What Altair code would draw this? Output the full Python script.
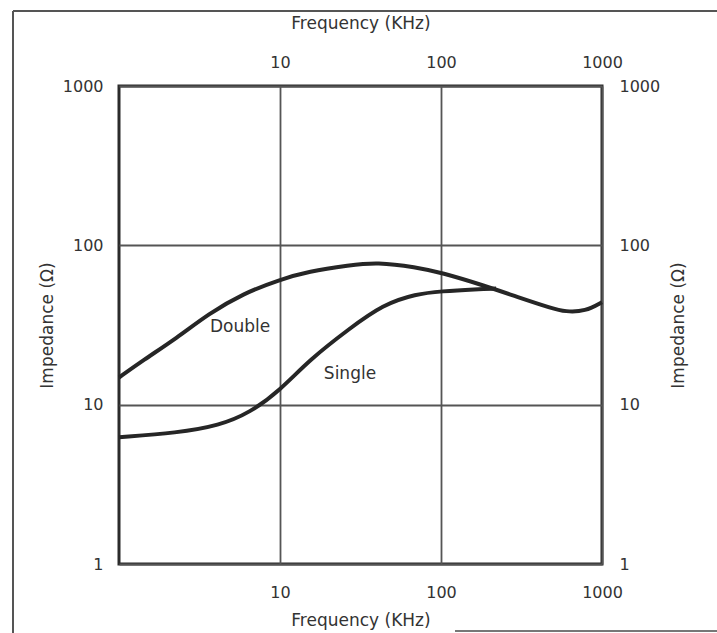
import altair as alt
import pandas as pd

# ---- data ----
double_freq = [1, 1.4, 2.3, 3.6, 5.9, 10, 15, 27, 40, 70, 100, 185, 300, 490, 590, 790, 1000]
double_imp = [14.8, 18.9, 26.3, 37.2, 49.8, 61, 68.5, 75, 78.5, 73, 67.5, 56, 47.3, 40.2, 38.3, 38.5, 44]

single_freq = [1, 2.3, 4.2, 6.5, 10, 15.3, 27, 43.6, 70, 100, 167, 220]
single_imp = [6.25, 6.65, 7.4, 8.9, 12.3, 19.2, 30, 42.5, 49.5, 51.5, 53, 53.5]

label_text = ["Double", "Single"]
label_freq = [5.65, 27.2]
label_imp = [30.7, 15.6]

x_ticks = [10, 100, 1000]
y_ticks = [1, 10, 100, 1000]

lines = pd.DataFrame(
    {
        "f": double_freq + single_freq,
        "z": double_imp + single_imp,
        "series": ["Double"] * len(double_freq) + ["Single"] * len(single_freq),
    }
)
labels = pd.DataFrame({"f": label_freq, "z": label_imp, "t": label_text})

FONT = "DejaVu Sans"
INK = "#333333"

xscale = alt.Scale(type="log", domain=[1, 1000], nice=False)
yscale = alt.Scale(type="log", domain=[1, 1000], nice=False)

curves = (
    alt.Chart(lines)
    .mark_line(color="#262626", strokeWidth=4, interpolate="basis")
    .encode(
        x=alt.X(
            "f:Q",
            scale=xscale,
            axis=alt.Axis(
                orient="bottom",
                values=x_ticks,
                format="d",
                labelFlush=False,
                labelPadding=20,
                title="Frequency  (KHz)",
                titlePadding=12,
                grid=True,
            ),
        ),
        y=alt.Y(
            "z:Q",
            scale=yscale,
            axis=alt.Axis(
                orient="left",
                values=y_ticks,
                format="d",
                labelPadding=16,
                title="Impedance (Ω)",
                titlePadding=6,
                grid=True,
            ),
        ),
        detail="series:N",
        order=alt.Order("f:Q"),
    )
)

texts = (
    alt.Chart(labels)
    .mark_text(font=FONT, fontSize=17, color=INK)
    .encode(
        x=alt.X(
            "f:Q",
            scale=xscale,
            axis=alt.Axis(
                orient="top",
                values=x_ticks,
                format="d",
                labelFlush=False,
                labelPadding=16,
                title="Frequency  (KHz)",
                titlePadding=22,
                grid=False,
            ),
        ),
        y=alt.Y(
            "z:Q",
            scale=yscale,
            axis=alt.Axis(
                orient="right",
                values=y_ticks,
                format="d",
                labelPadding=17,
                title="Impedance (Ω)",
                titleAngle=270,
                titlePadding=28,
                grid=False,
            ),
        ),
        text="t:N",
    )
)

frame_df = pd.DataFrame({"k": [0]})
frame_left = alt.Chart(frame_df).mark_rule(color="#555555", strokeWidth=2).encode(
    x=alt.value(-106), y=alt.value(-75), y2=alt.value(547)
)
frame_top = alt.Chart(frame_df).mark_rule(color="#555555", strokeWidth=2).encode(
    x=alt.value(-106), x2=alt.value(600), y=alt.value(-75)
)
frame_bottom = alt.Chart(frame_df).mark_rule(color="#777777", strokeWidth=2).encode(
    x=alt.value(336), x2=alt.value(600), y=alt.value(545)
)

chart = (
    alt.layer(curves, texts, frame_left, frame_top, frame_bottom)
    .resolve_axis(x="independent", y="independent")
    .properties(
        width=483,
        height=478,
        autosize=alt.AutoSizeParams(type="none"),
        padding={"left": 119, "top": 86, "right": 115, "bottom": 69},
        background="white",
    )
    .configure_view(stroke="#2b2b2b", strokeWidth=3)
    .configure_axis(
        labelFont=FONT,
        labelFontSize=16,
        labelColor=INK,
        titleFont=FONT,
        titleFontSize=17,
        titleFontWeight="normal",
        titleColor=INK,
        domain=False,
        ticks=False,
        tickSize=0,
        gridColor="#555555",
        gridWidth=1.8,
        gridOpacity=1,
    )
)

chart.save("out.html", embed_options={"renderer": "svg", "actions": False})
